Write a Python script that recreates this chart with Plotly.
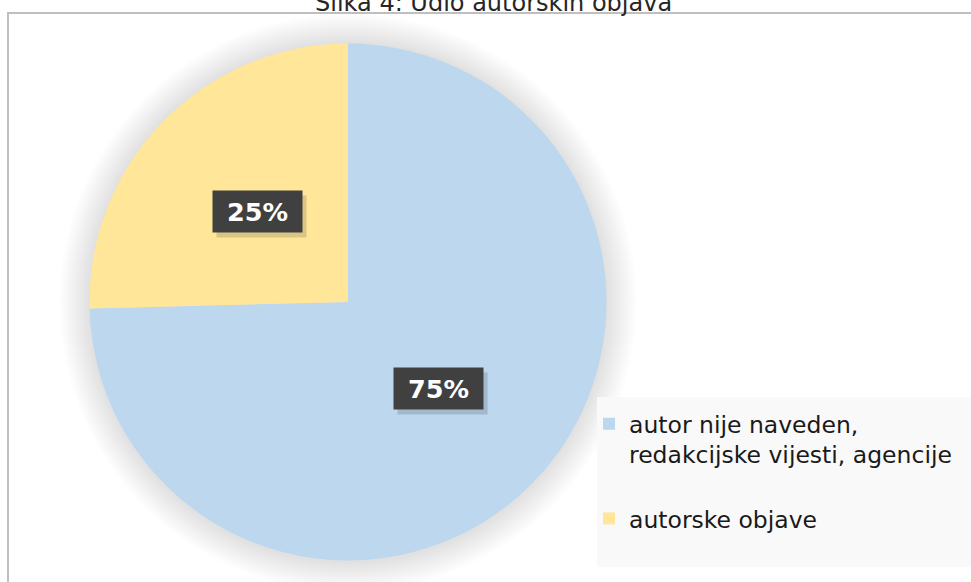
import math
import plotly.graph_objects as go

# ---- data ----
labels = ["autor nije naveden,<br>redakcijske vijesti, agencije<br> ", "autorske objave"]
values = [74.6, 25.4]
colors = ["#bdd7ee", "#ffe699"]
title_text = "Slika 4: Udio autorskih objava"

W, H = 971, 582
FONT = "DejaVu Sans, Verdana, sans-serif"

# pie geometry in pixels
cx, cy, r = 348.0, 302.0, 258.5

def px(x):
    return x / W

def py(y):
    return 1 - y / H

dom_x = [px(cx - r), px(cx + r)]
dom_y = [py(cy + r), py(cy - r)]

fig = go.Figure()
fig.add_trace(go.Pie(
    labels=labels, values=values, sort=False, direction="clockwise", rotation=0,
    marker=dict(colors=colors, line=dict(width=0)),
    textinfo="none", hoverinfo="label+percent",
    domain=dict(x=dom_x, y=dom_y),
))

shapes = []
# outer border
shapes.append(dict(type="rect", xref="paper", yref="paper", layer="below",
                   x0=px(8), x1=1.02, y0=-0.02, y1=py(13),
                   line=dict(color="#bfbfbf", width=2), fillcolor="rgba(0,0,0,0)"))
# soft glow/shadow around pie
for extra in range(30, 0, -2):
    rr = r + extra
    shapes.append(dict(type="circle", xref="paper", yref="paper", layer="below",
                       x0=px(cx - rr), x1=px(cx + rr), y0=py(cy + rr + 1), y1=py(cy - rr),
                       fillcolor="rgba(0,0,0,0.009)", line=dict(width=0)))
# legend background
shapes.append(dict(type="rect", xref="paper", yref="paper", layer="below",
                   x0=px(597), x1=1.0, y0=py(567), y1=py(397),
                   line=dict(width=0), fillcolor="#f9f9f9"))

annotations = [dict(text=title_text, xref="paper", yref="paper", x=px(493), y=py(3),
                    xanchor="center", yanchor="middle", showarrow=False,
                    font=dict(family=FONT, size=24, color="#262626"))]

# data labels, placed at about half radius along each slice's mid angle
total = sum(values)
start = 0.0
for v in values:
    frac = v / total
    mid = (start + frac / 2) * 2 * math.pi
    start += frac
    lx = cx + 0.49 * r * math.sin(mid)
    ly = cy - 0.49 * r * math.cos(mid) - 2
    txt = f"{round(frac * 100)}%"
    # shadow
    annotations.append(dict(text=txt, xref="paper", yref="paper", x=px(lx + 4), y=py(ly + 5),
                            showarrow=False, bgcolor="rgba(0,0,0,0.14)", borderpad=7,
                            width=75, height=27,
                            font=dict(family=FONT, size=25, color="rgba(0,0,0,0)"),
                            xanchor="center", yanchor="middle"))
    annotations.append(dict(text=f"<b>{txt}</b>", xref="paper", yref="paper", x=px(lx), y=py(ly),
                            showarrow=False, bgcolor="#404040", borderpad=7,
                            width=75, height=27,
                            font=dict(family=FONT, size=25.5, color="white"),
                            xanchor="center", yanchor="middle"))

fig.update_layout(
    width=W, height=H, margin=dict(l=0, r=0, t=0, b=0),
    paper_bgcolor="white", plot_bgcolor="white",
    shapes=shapes, annotations=annotations,
    showlegend=True,
    legend=dict(x=px(589), y=py(402), xanchor="left", yanchor="top", valign="top",
                bgcolor="rgba(0,0,0,0)", font=dict(family=FONT, size=23.5, color="#1a1a1a"),
                itemsizing="constant"),
)

fig.write_html("out.html", config={"displayModeBar": False},
               post_script="document.body.style.margin='0';")
